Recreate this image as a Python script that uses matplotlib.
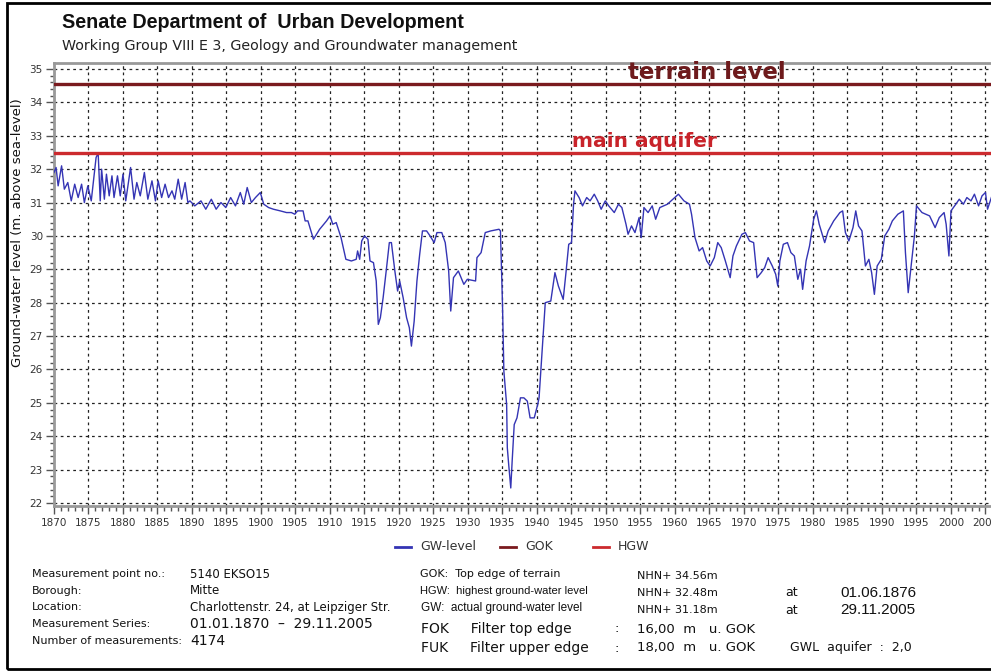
import matplotlib
matplotlib.use("Agg")
import matplotlib.pyplot as plt
from matplotlib.ticker import MultipleLocator
from matplotlib.patches import Rectangle
from matplotlib.lines import Line2D

plt.rcParams['font.family'] = ['Liberation Sans', 'DejaVu Sans']

# ---------------- data ----------------
years = [
    1870.0, 1870.3, 1870.6, 1871.1, 1871.5, 1872.0, 1872.5, 1873.0, 1873.5, 1874.0,
    1874.4, 1874.9, 1875.4, 1875.7, 1876.1, 1876.4, 1876.7, 1876.9, 1877.3, 1877.6,
    1878.0, 1878.4, 1878.7, 1879.2, 1879.6, 1880.0, 1880.4, 1881.1, 1881.6, 1882.0,
    1882.5, 1883.1, 1883.6, 1884.2, 1884.7, 1885.1, 1885.6, 1886.1, 1886.6, 1887.1,
    1887.5, 1888.0, 1888.5, 1889.0, 1889.4, 1889.7, 1890.4, 1891.3, 1892.0, 1892.8,
    1893.5, 1894.2, 1894.9, 1895.6, 1896.3, 1897.0, 1897.5, 1898.0, 1898.6, 1899.2,
    1899.9, 1900.4, 1901.1, 1901.8, 1902.8, 1903.7, 1904.4, 1904.9, 1905.3, 1906.1,
    1906.4, 1906.8, 1907.6, 1908.5, 1909.5, 1910.0, 1910.4, 1910.9, 1911.6, 1912.3,
    1913.1, 1913.8, 1914.0, 1914.3, 1914.6, 1915.0, 1915.5, 1915.8, 1916.3, 1916.7,
    1917.0, 1917.3, 1917.7, 1918.2, 1918.6, 1918.9, 1919.4, 1919.8, 1920.1, 1920.6,
    1921.1, 1921.5, 1921.8, 1922.2, 1922.6, 1923.0, 1923.4, 1924.0, 1924.5, 1925.1,
    1925.5, 1926.2, 1926.7, 1927.2, 1927.5, 1927.9, 1928.6, 1929.4, 1929.9, 1931.1,
    1931.3, 1931.9, 1932.5, 1933.3, 1934.5, 1934.7, 1935.0, 1935.2, 1935.6, 1935.7,
    1935.9, 1936.2, 1936.4, 1936.7, 1937.1, 1937.6, 1938.1, 1938.6, 1939.0, 1939.6,
    1940.1, 1940.3, 1940.8, 1941.2, 1942.0, 1942.6, 1943.1, 1943.8, 1944.2, 1944.6,
    1945.0, 1945.3, 1945.5, 1946.1, 1946.6, 1947.2, 1947.7, 1948.3, 1948.8, 1949.3,
    1949.9, 1950.4, 1951.2, 1951.8, 1952.3, 1952.9, 1953.2, 1953.7, 1954.2, 1954.8,
    1955.1, 1955.5, 1956.1, 1956.7, 1957.2, 1957.8, 1958.9, 1959.7, 1960.5, 1961.3,
    1962.1, 1962.4, 1962.9, 1963.5, 1964.0, 1964.6, 1965.1, 1965.7, 1966.2, 1966.7,
    1967.3, 1968.0, 1968.4, 1968.9, 1969.7, 1970.2, 1970.8, 1971.4, 1971.9, 1972.5,
    1973.0, 1973.5, 1974.1, 1974.6, 1974.9, 1975.2, 1975.7, 1976.3, 1976.8, 1977.3,
    1977.8, 1978.2, 1978.5, 1979.0, 1979.5, 1980.1, 1980.5, 1980.9, 1981.7, 1982.2,
    1983.0, 1983.9, 1984.3, 1984.7, 1985.2, 1985.8, 1986.2, 1986.6, 1987.1, 1987.6,
    1988.1, 1988.5, 1988.9, 1989.3, 1989.9, 1990.4, 1991.0, 1991.5, 1992.3, 1993.1,
    1993.4, 1993.8, 1994.2, 1994.7, 1995.0, 1995.8, 1996.9, 1997.7, 1998.3, 1999.0,
    1999.3, 1999.7, 2000.0, 2000.7, 2001.2, 2001.8, 2002.3, 2002.9, 2003.4, 2004.0,
    2004.5, 2005.0, 2005.3, 2005.9,
]
gw_level = [
    31.90, 32.05, 31.50, 32.10, 31.40, 31.60, 31.05, 31.55, 31.15, 31.55,
    31.00, 31.50, 31.05, 31.60, 32.35, 32.48, 31.05, 32.00, 31.10, 31.85,
    31.20, 31.80, 31.15, 31.80, 31.20, 31.85, 31.05, 32.05, 31.10, 31.60,
    31.20, 31.90, 31.10, 31.65, 31.05, 31.65, 31.15, 31.55, 31.15, 31.35,
    31.10, 31.70, 31.10, 31.60, 31.00, 31.05, 30.90, 31.05, 30.80, 31.10,
    30.80, 31.00, 30.85, 31.15, 30.90, 31.30, 30.95, 31.45, 31.00, 31.15,
    31.30, 30.95, 30.85, 30.80, 30.75, 30.70, 30.70, 30.65, 30.75, 30.75,
    30.45, 30.45, 29.90, 30.20, 30.45, 30.60, 30.35, 30.40, 29.95, 29.30,
    29.25, 29.30, 29.55, 29.30, 29.85, 30.00, 29.90, 29.25, 29.20, 28.65,
    27.35, 27.55, 28.15, 29.05, 29.80, 29.80, 28.95, 28.35, 28.65, 28.15,
    27.55, 27.25, 26.70, 27.45, 28.65, 29.45, 30.15, 30.15, 30.00, 29.80,
    30.10, 30.10, 29.80, 28.95, 27.75, 28.75, 28.95, 28.55, 28.70, 28.65,
    29.35, 29.50, 30.10, 30.15, 30.20, 30.15, 27.95, 25.95, 24.95, 23.65,
    23.15, 22.45, 23.25, 24.35, 24.55, 25.15, 25.15, 25.05, 24.55, 24.55,
    24.95, 25.15, 26.75, 28.00, 28.05, 28.90, 28.50, 28.10, 28.90, 29.75,
    29.80, 30.95, 31.35, 31.15, 30.90, 31.15, 31.05, 31.25, 31.05, 30.80,
    31.05, 30.90, 30.70, 30.95, 30.85, 30.35, 30.05, 30.30, 30.10, 30.55,
    29.95, 30.85, 30.70, 30.90, 30.50, 30.85, 30.95, 31.10, 31.25, 31.05,
    30.95, 30.65, 29.95, 29.55, 29.65, 29.25, 29.10, 29.35, 29.80, 29.65,
    29.25, 28.75, 29.40, 29.70, 30.05, 30.10, 29.85, 29.80, 28.75, 28.90,
    29.05, 29.35, 29.10, 28.85, 28.50, 29.25, 29.75, 29.80, 29.50, 29.40,
    28.70, 29.00, 28.40, 29.25, 29.70, 30.50, 30.75, 30.35, 29.80, 30.15,
    30.45, 30.70, 30.75, 30.10, 29.85, 30.25, 30.75, 30.30, 30.15, 29.10,
    29.30, 28.90, 28.25, 29.10, 29.30, 30.00, 30.20, 30.45, 30.65, 30.75,
    29.50, 28.30, 29.05, 30.00, 30.90, 30.70, 30.60, 30.25, 30.55, 30.70,
    30.35, 29.40, 30.75, 30.95, 31.10, 30.95, 31.15, 31.05, 31.25, 30.90,
    31.20, 31.30, 30.80, 31.18,
]
terrain_level = 34.56   # GOK
highest_gw = 32.48      # HGW

x_ticks = list(range(1870, 2006, 5))
y_ticks = list(range(22, 36))

# ---------------- figure ----------------
W, H = 991, 672
fig = plt.figure(figsize=(W / 100, H / 100), dpi=100)
DV = 'DejaVu Sans'

def fx(px):
    return px / W

def fy(py):
    return 1 - py / H

ax = fig.add_axes([fx(54), fy(506), fx(991) - fx(54), fy(63) - fy(506)])
ax.set_xlim(1870, 2005.8)
ax.set_ylim(21.91, 35.18)

ax.plot(years, gw_level, color='#3434b4', lw=1.0, zorder=3)
ax.axhline(terrain_level, color='#7a1a1e', lw=2.4, zorder=4)
ax.axhline(highest_gw, color='#cc2a2e', lw=2.4, zorder=4)

ax.text(1953.2, 34.70, 'terrain level', color='#6e1a1c', fontsize=16.5, family=DV,
        fontweight='bold', va='baseline', ha='left', zorder=5)
ax.text(1945.1, 32.66, 'main aquifer', color='#c8232a', fontsize=14.5, family=DV,
        fontweight='bold', va='baseline', ha='left', zorder=5)

ax.set_xticks(x_ticks)
ax.set_yticks(y_ticks)
ax.xaxis.set_minor_locator(MultipleLocator(1))
ax.yaxis.set_minor_locator(MultipleLocator(0.2))
ax.grid(True, which='major', color='#222222', linestyle=(0, (2.2, 2.8)), lw=0.9)
ax.tick_params(axis='both', which='major', labelsize=7.5, labelcolor='#333333',
               color='#555555', direction='out')
ax.tick_params(axis='y', which='major', length=6, width=1, pad=2)
ax.tick_params(axis='y', which='minor', length=3, width=1, color='#555555')
ax.tick_params(axis='x', which='major', length=6, width=1, pad=3)
ax.tick_params(axis='x', which='minor', length=3.5, width=1, color='#555555')
for lab in ax.get_xticklabels() + ax.get_yticklabels():
    lab.set_family(DV)
for s in ['left', 'bottom', 'top']:
    ax.spines[s].set_color('#999999')
    ax.spines[s].set_linewidth(2)
ax.spines['right'].set_visible(False)

fig.text(fx(18), fy(233), 'Ground-water level (m. above sea-level)', rotation=90,
         ha='center', va='center', fontsize=9.5, family=DV, color='#111111')

# titles
fig.text(fx(62), fy(22), 'Senate Department of  Urban Development', fontsize=14.2,
         fontweight='bold', ha='left', va='center', color='#111111')
fig.text(fx(62), fy(46), 'Working Group VIII E 3, Geology and Groundwater management',
         fontsize=10.3, family=DV, ha='left', va='center', color='#222222')

# legend
leg_items = [('GW-level', '#3434b4', 395), ('GOK', '#7a1a1e', 500), ('HGW', '#cc2a2e', 593)]
for label, col, px in leg_items:
    fig.add_artist(Line2D([fx(px), fx(px + 16)], [fy(547), fy(547)], color=col, lw=2,
                          transform=fig.transFigure))
    fig.text(fx(px + 25), fy(547), label, fontsize=9, family=DV, ha='left', va='center',
             color='#333333')

# info block left
info_left = [
    ('Measurement point no.:', '5140 EKSO15', 574, 8.5),
    ('Borough:', 'Mitte', 591, 8.5),
    ('Location:', 'Charlottenstr. 24, at Leipziger Str.', 607, 8.5),
    ('Measurement Series:', '01.01.1870  \u2013  29.11.2005', 624, 10),
    ('Number of measurements:', '4174', 641, 10),
]
for lab, val, py, fs in info_left:
    fig.text(fx(32), fy(py), lab, fontsize=8, family=DV, ha='left', va='center', color='#111111')
    fig.text(fx(190), fy(py), val, fontsize=fs, family=DV, ha='left', va='center', color='#111111')

# info block right
def t(px, py, s, fs, fam=DV):
    fig.text(fx(px), fy(py), s, fontsize=fs, family=fam, ha='left', va='center', color='#111111')

t(420, 574, 'GOK:  Top edge of terrain', 8)
t(637, 576, 'NHN+ 34.56m', 8)
t(420, 591, 'HGW:  highest ground-water level', 8, 'Liberation Sans')
t(637, 593, 'NHN+ 32.48m', 8)
t(785, 593, 'at', 9)
t(840, 593, '01.06.1876', 11, 'Liberation Sans')
t(421, 608, 'GW:  actual ground-water level', 8.5, 'Liberation Sans')
t(637, 610, 'NHN+ 31.18m', 8)
t(785, 610, 'at', 9)
t(840, 610, '29.11.2005', 11, 'Liberation Sans')
t(421, 629, 'FOK     Filter top edge', 10)
t(614, 629, ':', 9.5)
t(637, 629, '16,00  m   u. GOK', 9.5)
t(421, 648, 'FUK     Filter upper edge', 10)
t(614, 648, ':', 9.5)
t(637, 648, '18,00  m   u. GOK', 9.5)
t(790, 648, 'GWL  aquifer  :  2,0', 9)

# outer frame
fig.add_artist(Rectangle((fx(7), fy(669)), fx(1000) - fx(7), fy(3) - fy(669),
                         fill=False, edgecolor='black', lw=2, transform=fig.transFigure))

fig.savefig('out.png', dpi=100)
